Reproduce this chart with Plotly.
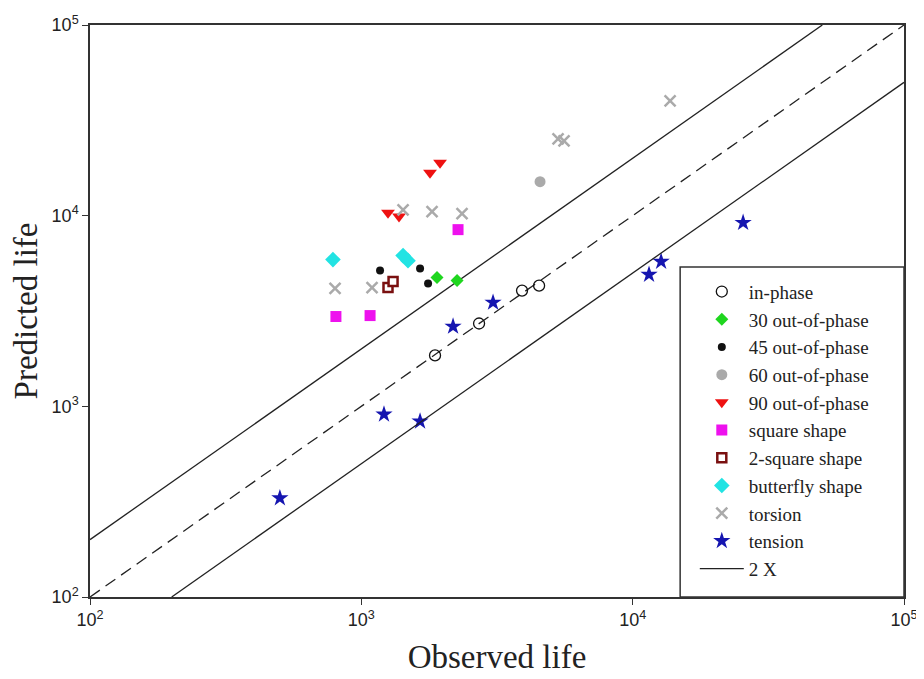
import plotly.graph_objects as go

# ---- data (observed life, predicted life) ----
inphase_obs = [1869, 2716, 3911, 4520]
inphase_pred = [1849, 2720, 4046, 4296]

op30_obs = [1901, 2253]
op30_pred = [4732, 4567]

op45_obs = [1172, 1646, 1762]
op45_pred = [5152, 5279, 4406]

op60_obs = [4557]
op60_pred = [15070]

op90_obs = [1791, 1950, 1254, 1377]
op90_pred = [16790, 18950, 10370, 9886]

square_obs = [806, 1077, 2272]
square_pred = [2958, 2992, 8447]

sq2_obs = [1254, 1309]
sq2_pred = [4198, 4513]

butterfly_obs = [786, 1425, 1486]
butterfly_pred = [5884, 6174, 5807]

torsion_obs = [5309, 5585, 13740, 1425, 1822, 2350, 800, 1095]
torsion_pred = [25290, 24700, 40000, 10740, 10490, 10240, 4150, 4198]

tension_obs = [501, 1212, 1646, 2178, 3058, 11490, 12730, 25530]
tension_pred = [330, 908, 835, 2624, 3504, 4909, 5741, 9183]

axis_min, axis_max = 100, 100000
band_factor = 2  # 2X scatter band
tick_vals = [100, 1000, 10000, 100000]
tick_text = ["10<sup>2</sup>", "10<sup>3</sup>", "10<sup>4</sup>", "10<sup>5</sup>"]

fig = go.Figure()

def pts(name, xs, ys, symbol, color, size, line_color=None, line_width=0):
    fig.add_trace(go.Scatter(
        x=xs, y=ys, mode="markers", name=name, legendgroup=name,
        marker=dict(symbol=symbol, color=color, size=size,
                    line=dict(color=line_color or color, width=line_width)),
    ))

# reference lines
fig.add_trace(go.Scatter(x=[axis_min, axis_max], y=[axis_min, axis_max], mode="lines",
                         line=dict(color="#222222", width=1.3, dash="12px,7px"),
                         showlegend=False, hoverinfo="skip"))
fig.add_trace(go.Scatter(x=[axis_min, axis_max / band_factor],
                         y=[axis_min * band_factor, axis_max], mode="lines",
                         line=dict(color="#222222", width=1.3),
                         showlegend=False, hoverinfo="skip"))

pts("in-phase", inphase_obs, inphase_pred, "circle-open", "#111111", 11, "#111111", 1.3)
pts("30 out-of-phase", op30_obs, op30_pred, "diamond", "#1fd61f", 10)
pts("45 out-of-phase", op45_obs, op45_pred, "circle", "#111111", 8)
pts("60 out-of-phase", op60_obs, op60_pred, "circle", "#aaaaaa", 11)
pts("90 out-of-phase", op90_obs, op90_pred, "triangle-down", "#ee1111", 12)
pts("square shape", square_obs, square_pred, "square", "#ee11ee", 11)
pts("2-square shape", sq2_obs, sq2_pred, "square", "#ffffff", 9, "#7a1010", 2.5)
pts("butterfly shape", butterfly_obs, butterfly_pred, "diamond", "#22e3e3", 12)
pts("torsion", torsion_obs, torsion_pred, "x-thin-open", "#aaaaaa", 11, "#aaaaaa", 2.5)
pts("tension", tension_obs, tension_pred, "star", "#1515b0", 13)

fig.add_trace(go.Scatter(x=[axis_min * band_factor, axis_max],
                         y=[axis_min, axis_max / band_factor], mode="lines",
                         name="2 X", legendgroup="2 X",
                         line=dict(color="#222222", width=1.3)))

axis_common = dict(
    type="log", showgrid=False, zeroline=False, automargin=False,
    showline=True, linecolor="#333333", linewidth=1.5, mirror=True,
    ticks="outside", ticklen=6, tickwidth=1.3, tickcolor="#333333",
    tickvals=tick_vals, ticktext=tick_text,
    tickfont=dict(family="Liberation Sans, Arial", size=18, color="#222222"),
    range=[2, 5],
)

fig.update_layout(
    width=924, height=679,
    margin=dict(l=82, r=28, t=17, b=90),
    paper_bgcolor="white", plot_bgcolor="white",
    xaxis=dict(**axis_common,
               title=dict(text="Observed life", standoff=16,
                          font=dict(family="Liberation Serif, Times New Roman", size=33, color="#222222"))),
    yaxis=dict(**axis_common,
               title=dict(text="Predicted life", standoff=12,
                          font=dict(family="Liberation Serif, Times New Roman", size=33, color="#222222"))),
    legend=dict(x=0.743, y=0.567, xanchor="left", yanchor="top",
                bgcolor="rgba(0,0,0,0)", borderwidth=0,
                font=dict(family="Liberation Serif, Times New Roman", size=19, color="#222222"),
                tracegroupgap=0, itemwidth=44),
    shapes=[dict(type="rect", xref="paper", yref="paper",
                 x0=0.725, x1=1.0, y0=0.0, y1=0.577,
                 line=dict(color="#333333", width=1.5), fillcolor="white", layer="below")],
    showlegend=True,
)

fig.write_html("out.html")
